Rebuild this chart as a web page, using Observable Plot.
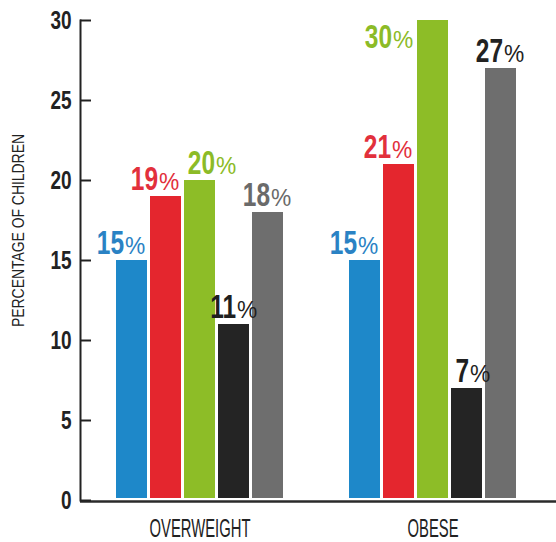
<!DOCTYPE html>
<html>
<head>
<meta charset="utf-8">
<script src="https://cdn.jsdelivr.net/npm/d3@7"></script>
<script src="https://cdn.jsdelivr.net/npm/@observablehq/plot@0.6"></script>
<style>
  html, body { margin: 0; padding: 0; background: #fff; }
  #chart svg { display: block; }
</style>
</head>
<body>
<div id="chart"></div>
<script>
// Share of children in each weight category, five cohorts per category
const groups = ["OVERWEIGHT", "OBESE"];
const cohorts = ["Cohort 1", "Cohort 2", "Cohort 3", "Cohort 4", "Cohort 5"];
const overweightPct = [15, 19, 20, 11, 18];
const obesePct = [15, 21, 30, 7, 27];
const yTicks = [0, 5, 10, 15, 20, 25, 30];
const yTitle = "PERCENTAGE OF CHILDREN";

const barColors = ["#1e88c9", "#e4262e", "#8dbd27", "#242424", "#6e6e6e"];
const labelColors = ["#2a82c4", "#e2303c", "#8cbb27", "#1f1f1f", "#6a6a6a"];
const ink = "#222222";
const font = "'Liberation Sans', Arial, sans-serif";

const byGroup = [overweightPct, obesePct];
const rows = groups.flatMap((g, gi) =>
  cohorts.map((c, i) => ({group: g, cohort: c, value: byGroup[gi][i], prev: byGroup[gi][i - 1], next: byGroup[gi][i + 1]}))
);
const yMax = d3.max(yTicks);
const labelFill = (d) =>
  d.group === "OBESE" && d.cohort === cohorts[4] ? ink : labelColors[cohorts.indexOf(d.cohort)];

// Value labels lean away from a taller right-hand neighbour; a bar that reaches
// the top of the axis gets its label beside it instead of above it.
function lean(d) {
  if (d.value >= yMax) return "top";
  const prevTaller = d.prev !== undefined && d.prev > d.value;
  const nextTaller = d.next !== undefined && d.next > d.value;
  const nextShorter = d.next !== undefined && d.next < d.value;
  if (nextTaller && !prevTaller) return "left";
  if (nextShorter && !prevTaller) return "right";
  return "center";
}
const leanOffsets = {left: [-8, -7], center: [2, -7], right: [15, -7], top: [-41, 27]};

const W = 556, H = 542, mL = 80, mR = 0, mT = 20, mB = 42;

function valueLabels(data, [dx, dy]) {
  return [
    Plot.text(data, {
      fx: "group", x: "cohort", y: "value",
      text: (d) => String(d.value),
      textAnchor: "end", lineAnchor: "bottom", dx, dy,
      fill: labelFill, fontSize: 34, fontWeight: 700, fontFamily: font,
      ariaLabel: () => "value number"
    }),
    Plot.text(data, {
      fx: "group", x: "cohort", y: "value",
      text: () => "%",
      textAnchor: "start", lineAnchor: "bottom", dx: dx + 1, dy,
      fill: labelFill, fontSize: 24, fontWeight: 400, fontFamily: font,
      ariaLabel: () => "value unit"
    })
  ];
}
const labelMarks = Object.keys(leanOffsets).flatMap((k) =>
  valueLabels(rows.filter((d) => lean(d) === k), leanOffsets[k])
);

// axisShift moves the y axis from the first band's edge back to the frame edge;
// baselineReach stretches the zero line from the first band to the right edge.
function build({axisShift = 0, baselineReach = 0} = {}) {
  return Plot.plot({
    width: W,
    height: H,
    marginTop: mT,
    marginBottom: mB,
    marginLeft: mL,
    marginRight: mR,
    style: {background: "#fff", fontFamily: font, color: ink, overflow: "visible"},
    fx: {domain: groups, paddingInner: 0.274, paddingOuter: 0.156, align: 0.47},
    x: {domain: cohorts, paddingInner: 0.087, paddingOuter: 0, axis: null},
    y: {domain: [0, yMax], axis: null},
    color: {domain: cohorts, range: barColors},
    marks: [
      Plot.barY(rows, {fx: "group", x: "cohort", y: "value", fill: "cohort", insetBottom: 2}),
      ...labelMarks,
      // axis lines, drawn once from the leftmost band
      Plot.frame({anchor: "left", facetAnchor: "left", dx: axisShift, stroke: ink, strokeWidth: 2}),
      Plot.ruleY([0], {
        facetAnchor: "left", insetLeft: axisShift, insetRight: baselineReach,
        dy: 1, stroke: "#2a2a2a", strokeWidth: 2.5
      }),
      // y ticks pointing into the plot, labels outside
      Plot.axisY(yTicks, {dx: axisShift, tickSize: -11, fill: "none", stroke: ink, strokeWidth: 2, label: null}),
      Plot.axisY(yTicks, {
        dx: axisShift, tickSize: 0, tickPadding: 9, stroke: "none", fill: ink,
        fontSize: 26, fontWeight: 700, fontFamily: font, label: null
      }),
      Plot.text([yTitle], {
        facetAnchor: "left", frameAnchor: "left", textAnchor: "middle", rotate: -90,
        dx: axisShift - 61.5, dy: -30,
        fill: ink, fontSize: 16, fontFamily: font, ariaLabel: () => "y title"
      }),
      Plot.axisFx({
        anchor: "bottom", tickSize: 0, tickPadding: 18, label: null,
        fill: ink, fontSize: 26, fontFamily: font
      })
    ]
  });
}

// measure the band layout, then draw with the axis pinned to the frame edge
const probe = build();
const fxScale = probe.scale("fx");
const bandStart = fxScale.apply(groups[0]);
const chart = build({
  axisShift: mL - bandStart,
  baselineReach: -(W - mR - (bandStart + fxScale.bandwidth))
});

document.getElementById("chart").append(chart);

// Narrow the glyphs horizontally to a condensed face, keeping each anchor point
function condense(selector, k) {
  chart.querySelectorAll(selector).forEach((t) => {
    let transform = t.getAttribute("transform") || "";
    const x = t.getAttribute("x");
    if (x !== null && x !== "") {
      transform = `translate(${x},0) ` + transform;
      t.removeAttribute("x");
    }
    t.setAttribute("transform", `${transform} scale(${k},1)`.trim());
  });
}
condense('text[aria-label="value number"]', 0.72);
condense('text[aria-label="value unit"]', 0.95);
condense('g[aria-label="y-axis tick label"] text', 0.73);
condense('g[aria-label="fx-axis tick label"] text', 0.57);
condense('text[aria-label="y title"]', 0.87);
</script>
</body>
</html>
